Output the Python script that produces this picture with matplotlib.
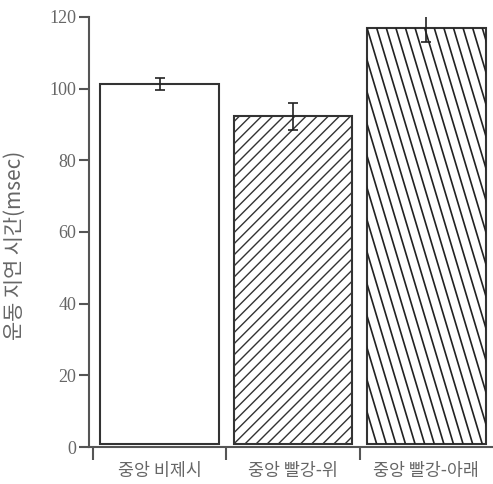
import matplotlib
matplotlib.use("Agg")
import matplotlib.pyplot as plt
import numpy as np
from matplotlib.lines import Line2D
from matplotlib.transforms import IdentityTransform

categories = ["중앙 비제시", "중앙 빨강-위", "중앙 빨강-아래"]
values = [101.3, 92.3, 116.8]
errors = [1.8, 3.7, 3.7]
yticks = [0, 20, 40, 60, 80, 100, 120]
ylabel = "운동 지연 시간(msec)"

W, H = 493, 484
fig = plt.figure(figsize=(W / 100, H / 100), dpi=100)
ax = fig.add_axes([89 / W, 37 / H, 1 - 89 / W, (447 - 17) / H])

edge = "#333333"
axcol = "#555555"
base = 0.9
x = np.arange(len(categories))
plt.rcParams["hatch.linewidth"] = 1.0
plt.rcParams["hatch.color"] = "#333333"
bars = ax.bar(x, [v - base for v in values], bottom=base, width=0.89,
              facecolor="white", edgecolor=edge, linewidth=1.5, zorder=2)
bars[1].set_hatch("///")

ax.errorbar(x, values, yerr=errors, fmt="none", ecolor="#222222",
            elinewidth=1.2, capsize=3.5, capthick=1.2, zorder=4)

ax.set_xlim(-0.53, 2.5)
ax.set_ylim(0, 120)

# steep custom hatch for third bar
fig.canvas.draw()
bb = bars[2].get_window_extent()
spacing = 9.6
slope = 0.30
hgt = bb.height
xs = np.arange(bb.x0 - slope * hgt - spacing, bb.x1 + spacing, spacing)
for x0 in xs:
    ln = Line2D([x0, x0 + slope * hgt], [bb.y1, bb.y0], transform=IdentityTransform(),
                color="#222222", linewidth=1.2, zorder=3)
    ax.add_line(ln)
    ln.set_clip_path(bars[2])

for s in ["top", "right"]:
    ax.spines[s].set_visible(False)
for s in ["left", "bottom"]:
    ax.spines[s].set_color(axcol)
    ax.spines[s].set_linewidth(1.5)

ax.set_yticks(yticks)
ax.set_yticklabels([str(t) for t in yticks], fontfamily="Liberation Serif",
                   fontsize=13, color="#666666")
ax.tick_params(axis="y", direction="out", length=7, width=1.5, color=axcol, pad=2)

ax.set_xticks([-0.5, 0.5, 1.5])
ax.set_xticklabels([])
ax.tick_params(axis="x", direction="out", length=9, width=1.5, color=axcol)
for i, c in enumerate(categories):
    ax.text(i, -4.3, c, ha="center", va="top", fontsize=12.5, color="#666666",
            fontfamily=["Noto Sans CJK KR", "DejaVu Sans"])

fig.text(15 / W, 1 - 245 / H, ylabel, rotation=90, ha="center", va="center",
         fontsize=15, color="#666666", fontfamily=["Noto Sans CJK KR", "DejaVu Sans"])

fig.savefig("out.png", dpi=100)
